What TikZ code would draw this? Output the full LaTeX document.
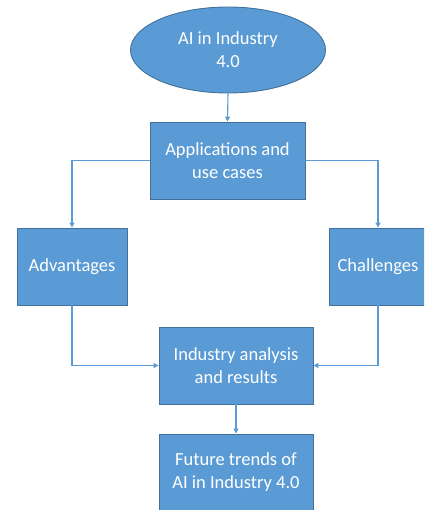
\documentclass[tikz,border=0pt]{standalone}
\usepackage{fontspec}
\setmainfont{Carlito}
\usetikzlibrary{shapes.geometric,arrows.meta}
\definecolor{boxfill}{HTML}{5B9BD5}
\definecolor{boxline}{HTML}{41719C}
\begin{document}
\begin{tikzpicture}[x=1bp,y=-1bp,
  every node/.style={font=\fontsize{18.5bp}{23bp}\selectfont, text=white, align=center, inner sep=0pt},
  boxnode/.style={rectangle, fill=boxfill, draw=boxline, line width=0.9bp},
  ovalnode/.style={ellipse, fill=boxfill, draw=boxline, line width=0.9bp},
  conn/.style={draw=boxfill, line width=1.1bp, -{Triangle[length=5bp,width=5bp]}}]
\useasboundingbox (0,0) rectangle (424,510);
\begin{scope}
\clip (0,0) rectangle (424,510);
\node[ovalnode, minimum width=195bp, minimum height=86bp] (ell) at (228,50) {AI in Industry\\4.0};
\node[boxnode, minimum width=155bp, minimum height=77bp] (app) at (227.5,160.5) {Applications and\\use cases};
\node[boxnode, minimum width=110bp, minimum height=77bp] (adv) at (72,266.5) {Advantages};
\node[boxnode, minimum width=98bp, minimum height=77bp] (chal) at (378,266.5) {Challenges};
\node[boxnode, minimum width=154bp, minimum height=77bp] (ind) at (236,365.5) {Industry analysis\\and results};
\node[boxnode, minimum width=154bp, minimum height=77bp] (fut) at (236,472.5) {Future trends of\\AI in Industry 4.0};
\end{scope}
\draw[conn] (ell.south) -- (app.north);
\draw[conn] (app.west) -| (adv.north);
\draw[conn] (app.east) -| (chal.north);
\draw[conn] (adv.south) |- (ind.west);
\draw[conn] (chal.south) |- (ind.east);
\draw[conn] (ind.south) -- (fut.north);
\end{tikzpicture}
\end{document}
